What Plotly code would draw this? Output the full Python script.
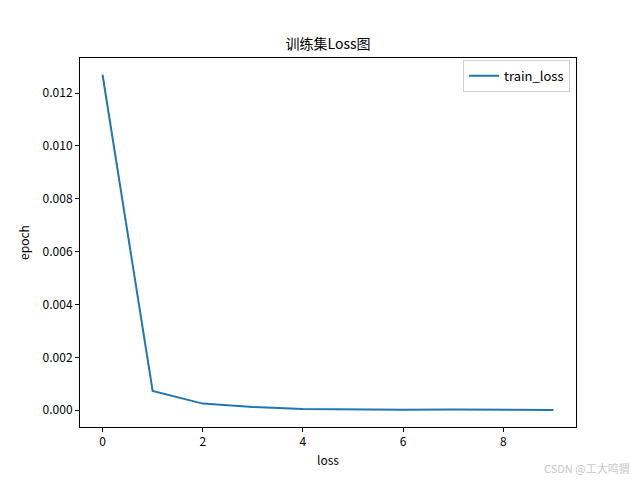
import plotly.graph_objects as go

# 训练集 loss 数据
epochs = [0, 1, 2, 3, 4, 5, 6, 7, 8, 9]
train_loss = [0.01269, 0.00073, 0.00025, 0.00012, 0.00005, 0.00003, 0.00002, 0.00003, 0.00001, 0.00001]

x_ticks = [0, 2, 4, 6, 8]
y_ticks = [0.000, 0.002, 0.004, 0.006, 0.008, 0.010, 0.012]
y_labels = ["0.000", "0.002", "0.004", "0.006", "0.008", "0.010", "0.012"]

font_cn = "Noto Sans CJK SC, DejaVu Sans"

fig = go.Figure()

fig.add_trace(
    go.Scatter(
        x=epochs,
        y=train_loss,
        mode="lines",
        name="train_loss",
        line=dict(color="#1f77b4", width=2)
    )
)

axis_style = dict(
    showline=True, linecolor="black", linewidth=1, mirror=True,
    ticks="outside", ticklen=4, tickcolor="black",
    showgrid=False, zeroline=False,
    tickfont=dict(size=12, color="black", family=font_cn),
)

ymax = max(train_loss)
pad = 0.05 * ymax

# 页面 body 有 8px 边距，所以画布比窗口小 8px
fig.update_layout(
    width=632,
    height=472,
    template="none",
    paper_bgcolor="white",
    plot_bgcolor="white",
    font=dict(family=font_cn, size=12, color="black"),
    title=dict(text="训练集Loss图", x=0.5, xanchor="center", xref="paper",
               y=1 - 36 / 472, yref="container", yanchor="middle",
               font=dict(size=14, color="black", family=font_cn)),
    margin=dict(l=72, r=64, t=50, b=53),
    xaxis=dict(range=[-0.45, 9.45], tickvals=x_ticks,
               title=dict(text="loss", standoff=8, font=dict(size=12)), **axis_style),
    yaxis=dict(range=[-pad, ymax + pad], tickvals=y_ticks, ticktext=y_labels,
               title=dict(text="epoch", standoff=10, font=dict(size=12)), **axis_style),
    legend=dict(x=0.988, y=0.995, xanchor="right", yanchor="top",
                bgcolor="white", bordercolor="#d0d0d0", borderwidth=1,
                font=dict(size=13, family=font_cn)),
    showlegend=True,
)

fig.add_annotation(
    text="CSDN @工大鸣猬", xref="paper", yref="paper", x=1, y=0,
    xanchor="right", yanchor="middle", xshift=56, yshift=-41, showarrow=False,
    font=dict(size=11, color="#c8c8c8", family=font_cn)
)

fig.write_html("out.html")
